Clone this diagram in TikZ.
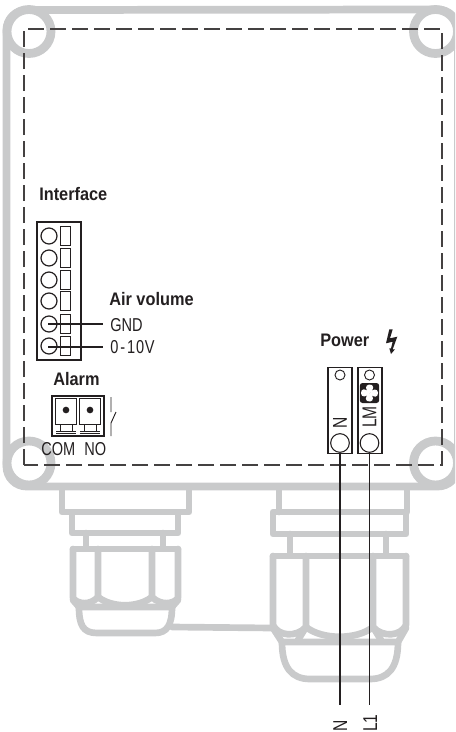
\documentclass[tikz,border=0pt]{standalone}
\usepackage{fontspec}
\setmainfont[FakeStretch=0.78,BoldFeatures={FakeStretch=0.9}]{Liberation Sans}
\begin{document}
\begin{tikzpicture}[x=0.75pt,y=-0.75pt,
  shell/.style={draw=shellgray,line width=5.8pt,line join=round},
  ring/.style={draw=shellgray,line width=6.6pt},
  gland/.style={draw=shellgray,line width=5pt,line join=round,line cap=round},
  ink/.style={draw=inkc,line width=0.9pt},
  wire/.style={draw=inkc,line width=0.9pt},
  dashline/.style={draw=inkc!85!white,line width=0.9pt,dash pattern=on 12pt off 4.5pt},
  head/.style={font=\fontsize{13.6}{14}\selectfont\bfseries,text=inkc,inner sep=0pt},
  lab/.style={font=\fontsize{14}{14}\selectfont,text=inkc,inner sep=0pt},
  hole/.style={circle,draw=inkc,line width=0.9pt,inner sep=0pt,minimum size=12pt},
  slot/.style={rectangle,draw=inkc,line width=0.9pt,inner sep=0pt,minimum width=7pt,minimum height=14.5pt},
  smallhole/.style={circle,draw=inkc,line width=0.7pt,inner sep=0pt,minimum size=7.5pt},
  bighole/.style={circle,draw=inkc,line width=0.8pt,inner sep=0pt,minimum size=14pt},
  block/.style={rectangle,draw=inkc,line width=0.9pt,inner sep=0pt,minimum width=18pt,minimum height=65pt},
]
\definecolor{shellgray}{HTML}{C9CACB}
\definecolor{inkc}{HTML}{231F20}
\useasboundingbox (0,0) rectangle (455,732);
% housing
\begin{scope}
\clip (0,0) rectangle (455,732);
\draw[shell] (6.5,30) arc[start angle=180,end angle=270,radius=20] -- (438,9.5) arc[start angle=270,end angle=360,radius=20] -- (458,466.5) arc[start angle=0,end angle=90,radius=20] -- (26.5,486.5) arc[start angle=90,end angle=180,radius=20] -- cycle;
\foreach \cx/\cy in {29/31.5,435.5/31.5,29/463,435.5/463}
  \draw[ring] (\cx,\cy) circle[radius=22];
\end{scope}
% glands left
\draw[gland] (62,490) -- (62,512) -- (189,512) -- (189,490);
\draw[gland] (72,512) rectangle (178,533);
\draw[gland] (86,533) -- (86,548) (163,533) -- (163,548);
\draw[gland] (73,549) -- (178,549);
\draw[gland] (73,549) -- (73,598) .. controls (77,604) and (90,606) .. (98,597) -- (98,549);
\draw[gland] (178,549) -- (178,598) .. controls (174,604) and (161,606) .. (152,597) -- (152,549);
\draw[gland] (98,597) .. controls (112,608) and (138,608) .. (152,597);
\draw[gland] (73,600) -- (79,607) -- (172,607) -- (178,600);
\draw[gland] (79,607) .. controls (79,625) and (83,633) .. (97,633) -- (155,633) .. controls (167,633) and (172,625) .. (172,607);
% link
\draw[gland] (172,627) -- (272,628);
% glands right
\draw[gland] (279,490) -- (279,512) (407,490) -- (407,512);
\draw[gland] (273,512) rectangle (406,534);
\draw[gland] (290,534) -- (290,554) (386,534) -- (386,554);
\draw[gland] (273,556) -- (406,556);
\draw[gland] (273,556) -- (273,625) .. controls (278,636) and (296,638) .. (306,627) -- (306,556);
\draw[gland] (406,556) -- (406,625) .. controls (401,636) and (383,638) .. (373,627) -- (373,556);
\draw[gland] (306,627) .. controls (322,640) and (357,640) .. (373,627);
\draw[gland] (273,628) -- (282,642) -- (398,642) -- (406,628);
\draw[gland] (306,627) -- (298,640) (373,627) -- (381,640);
\draw[gland] (282,642) .. controls (282,668) and (292,679) .. (310,679) -- (370,679) .. controls (388,679) and (398,668) .. (398,642);
% dashed outline
\draw[dashline] (24,465) -- (24,29) -- (442,29) -- (442,465) -- cycle;
% interface
\node[head,anchor=west] (ifl) at (39,194) {Interface};
\node[draw=inkc,line width=0.9pt,inner sep=0pt,minimum width=33pt,minimum height=103.5pt] (ifbox) at (59,291) {};
\foreach \n/\y in {1/236,2/258,3/280,4/301,5/324,6/346} {
  \node[hole] (h\n) at (49,\y) {};
  \node[slot] (s\n) at (65.5,\y) {};
}
\node[head,anchor=west] (air) at (109,299) {Air volume};
\node[lab,anchor=west] (gnd) at (110,325) {GND};
\node[lab,anchor=west] (v10) at (110,347) {0\kern1.5pt-\kern1.5pt1\kern0.6pt0\kern0.6ptV};
\coordinate (g5) at (48,324);
\coordinate (g6) at (48,347);
\coordinate (gr) at (103,324);
\coordinate (vr) at (103,347);
\draw[wire] (g5) -- (gr);
\draw[wire] (g6) -- (vr);
% alarm
\node[head,anchor=west] (alarm) at (53,379) {Alarm};
\node[draw=inkc,line width=0.9pt,inner sep=0pt,minimum width=39pt,minimum height=30pt] (albox) at (78,416) {};
\foreach \n/\x in {a/66,b/90} {
  \draw[ink,line width=0.7pt] (\x-10.5,398) rectangle (\x+10.5,424);
  \draw[ink,line width=0.6pt] (\x-6,424) -- (\x-6,431) (\x+6,424) -- (\x+6,431);
  \draw[ink,line width=0.7pt] (\x-10,431) -- (\x+10,431) (\x-10,433.5) -- (\x+10,433.5);
  \node[circle,fill=inkc,inner sep=0pt,minimum size=5pt] (dot\n) at (\x,410) {};
}
\draw[ink,line width=0.7pt] (111,397) -- (111,412) (111,436) -- (111,423) -- (116,412);
\node[lab,anchor=west] (com) at (41,449) {COM};
\node[lab,anchor=west] (no) at (84,449) {NO};
% power
\node[head,anchor=west] (power) at (320,340) {Power};
\fill[inkc] (389.3,329.3) -- (392.7,329.3) -- (390,338.3) -- (397.3,336.7) -- (392.7,349.3) -- (395,349.3) -- (391,354) -- (389.3,348.3) -- (391,348.3) -- (392.7,341.7) -- (386,343.3) -- cycle;
\node[block] (nb) at (340,410.5) {};
\node[block] (lb) at (370,410.5) {};
\node[smallhole] (nsmall) at (340,375) {};
\node[smallhole] (lsmall) at (369.5,375) {};
\node[bighole] (nbig) at (340,443) {};
\node[bighole] (lbig) at (369.5,443) {};
\node[rounded corners=2pt,fill=inkc,inner sep=0pt,minimum width=14.5pt,minimum height=15pt] (fan) at (369.5,393) {};
\foreach \a in {0,90,180,270}
  \fill[white,rotate around={\a:(369.5,393)}] (369.5,393) .. controls (365,390) and (365,385) .. (369,384.5) .. controls (374,384) and (375,389) .. (369.5,393) -- cycle;
\node[lab,rotate=90,font=\fontsize{15}{15}\selectfont] (nt) at (340,423) {N};
\node[lab,rotate=90,font=\fontsize{15}{15}\selectfont] (lt) at (369.5,417) {LM};
\node[lab,rotate=90,anchor=base west,font=\fontsize{15}{15}\selectfont] (nl) at (347,732) {N};
\node[lab,rotate=90,anchor=base west,font=\fontsize{15}{15}\selectfont] (l1) at (377,732) {L1};
\coordinate (ne) at (340,705);
\coordinate (le) at (369.5,705);
\draw[wire] (nbig.south) -- (ne);
\draw[wire] (lbig.south) -- (le);
\end{tikzpicture}
\end{document}
